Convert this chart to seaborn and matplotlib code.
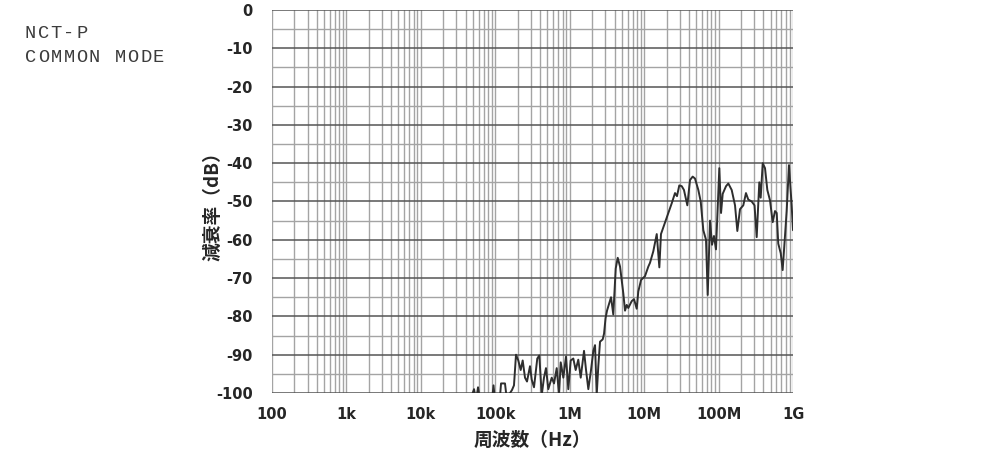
import numpy as np
import pandas as pd
import matplotlib
matplotlib.use("Agg")
import matplotlib.pyplot as plt
from matplotlib.ticker import FixedLocator, NullFormatter
import seaborn as sns

# Attenuation curve (frequency in Hz, attenuation in dB)
freq_hz = [
    4.57e4, 5.18e4, 5.51e4, 5.86e4, 6.24e4, 9.04e4, 9.46e4, 9.91e4,
    1.156e5, 1.194e5, 1.349e5, 1.416e5, 1.578e5, 1.677e5, 1.782e5, 1.897e5,
    2.037e5, 2.193e5, 2.333e5, 2.506e5, 2.667e5, 2.924e5, 3.083e5, 3.311e5,
    3.664e5, 3.899e5, 4.207e5, 4.508e5, 4.797e5, 5.152e5, 5.728e5, 6.152e5,
    6.683e5, 7.178e5, 7.568e5, 8.204e5, 8.913e5, 9.572e5,
    1.030e6, 1.117e6, 1.202e6, 1.303e6, 1.405e6, 1.556e6, 1.656e6, 1.778e6,
    1.932e6, 2.075e6, 2.188e6, 2.304e6, 2.421e6, 2.553e6, 2.773e6, 2.891e6,
    3.028e6, 3.170e6, 3.589e6, 3.849e6, 4.148e6, 4.415e6, 4.742e6, 5.248e6,
    5.533e6, 5.834e6, 6.125e6, 6.808e6, 7.311e6, 7.943e6, 8.343e6, 9.078e6,
    1.026e7, 1.137e7, 1.199e7, 1.327e7, 1.476e7, 1.600e7, 1.683e7, 1.905e7,
    2.113e7, 2.344e7, 2.597e7, 2.761e7, 2.965e7, 3.199e7, 3.428e7, 3.802e7,
    4.130e7, 4.487e7, 4.820e7, 5.346e7, 5.754e7, 6.237e7, 6.776e7, 7.145e7,
    7.674e7, 8.166e7, 8.670e7, 9.226e7,
    1.023e8, 1.079e8, 1.136e8, 1.259e8, 1.352e8, 1.501e8, 1.663e8, 1.786e8,
    1.941e8, 2.148e8, 2.333e8, 2.506e8, 2.786e8, 3.040e8, 3.252e8, 3.524e8,
    3.681e8, 3.917e8, 4.207e8, 4.519e8, 4.909e8, 5.333e8, 5.728e8, 6.039e8,
    6.339e8, 6.839e8, 7.261e8, 7.798e8, 8.222e8, 8.831e8, 9.594e8, 1.0e9,
]
atten_db = [
    -102, -99, -102, -98.5, -102, -102, -98, -102,
    -101, -97.5, -97.5, -101, -100, -99.2, -98, -90,
    -91.5, -94, -91.5, -96, -97, -93, -96.5, -98.5,
    -91, -90.2, -100.5, -96, -93.5, -99, -96, -97.5,
    -93.5, -100.5, -92, -96, -90.5, -99,
    -91.5, -91, -94, -91.3, -96, -89, -94, -99,
    -94, -89, -87.5, -100.5, -93, -86.6, -86, -84.5,
    -80.5, -78.5, -75, -79.5, -67.5, -64.7, -67, -74,
    -78.5, -77, -77.8, -76, -75.5, -78, -73.5, -70.5,
    -69.5, -67, -66, -63, -58.5, -67.2, -58.5, -55.5,
    -53, -50.5, -47.8, -48.6, -45.8, -46, -47, -51,
    -44.4, -43.5, -44, -47, -50, -57.5, -60, -74.4,
    -55, -61.3, -59, -62.5,
    -41.3, -53, -48, -46, -45.3, -47, -51, -57.7,
    -52, -51, -47.8, -49.5, -50, -51, -59.3, -45,
    -49, -40, -41.3, -47, -49.7, -55.4, -52.5, -53,
    -61, -63.5, -67.9, -59.2, -52.5, -40.5, -51, -57.5,
]

x_ticks = [1e2, 1e3, 1e4, 1e5, 1e6, 1e7, 1e8, 1e9]
x_tick_labels = ["100", "1k", "10k", "100k", "1M", "10M", "100M", "1G"]
y_ticks = [0, -10, -20, -30, -40, -50, -60, -70, -80, -90, -100]

df = pd.DataFrame({"freq": freq_hz, "db": atten_db})

sns.set_style("white")
plt.rcParams["font.family"] = ["DejaVu Sans", "Noto Sans CJK JP"]

fig = plt.figure(figsize=(9.99, 4.58), dpi=100)
ax = fig.add_axes([0.2723, 0.1419, 0.5215, 0.8363])

# grid: all decades 2..9 vertical, every 5 dB horizontal
minor_x = [m * 10 ** d for d in range(2, 9) for m in range(2, 10)]
for xv in x_ticks + minor_x:
    ax.axvline(xv, color="#a4a4a4", lw=1.0, zorder=1)
for yv in np.arange(-95, 0, 10):
    ax.axhline(yv, color="#a4a4a4", lw=1.0, zorder=1)
for yv in y_ticks:
    ax.axhline(yv, color="#555555", lw=1.1, zorder=1)

sns.lineplot(data=df, x="freq", y="db", ax=ax, color="#2e2e2e", lw=1.4,
             estimator=None, sort=False, zorder=3)

ax.set_xscale("log")
ax.set_xlim(1e2, 1e9)
ax.set_ylim(-100, 0)
ax.xaxis.set_major_locator(FixedLocator(x_ticks))
ax.set_xticklabels(x_tick_labels)
ax.xaxis.set_minor_formatter(NullFormatter())
ax.set_yticks(y_ticks)
ax.set_yticklabels([str(v) for v in y_ticks])
ax.tick_params(axis="both", which="both", length=0, labelsize=10.5)
ax.tick_params(axis="x", pad=10)
ax.tick_params(axis="y", pad=14)
for lab in ax.get_xticklabels() + ax.get_yticklabels():
    lab.set_fontweight("bold")
for sp in ax.spines.values():
    sp.set_visible(False)

ax.set_xlabel("周波数（Hz）", fontsize=13.5, fontweight="bold",
              family=["Noto Sans CJK JP", "DejaVu Sans"])
ax.set_ylabel("減衰率（dB）", fontsize=13.5, fontweight="bold",
              family=["Noto Sans CJK JP", "DejaVu Sans"])
ax.xaxis.set_label_coords(0.5, -0.123)
ax.yaxis.set_label_coords(-0.113, 0.5)
ax.xaxis.label.set_va("center")
ax.yaxis.label.set_va("center")

# letter-spaced title at the top left
def spaced_text(text, x0, y0, pitch):
    for i, ch in enumerate(text):
        fig.text((x0 + i * pitch) / 999, 1 - y0 / 458, ch, family="Liberation Mono",
                 fontsize=13.5, color="#3c3c3c", ha="left", va="center")

spaced_text("NCT-P", 25, 33, 12.8)
spaced_text("COMMON MODE", 25, 57, 12.8)

fig.savefig("out.png", dpi=100)
